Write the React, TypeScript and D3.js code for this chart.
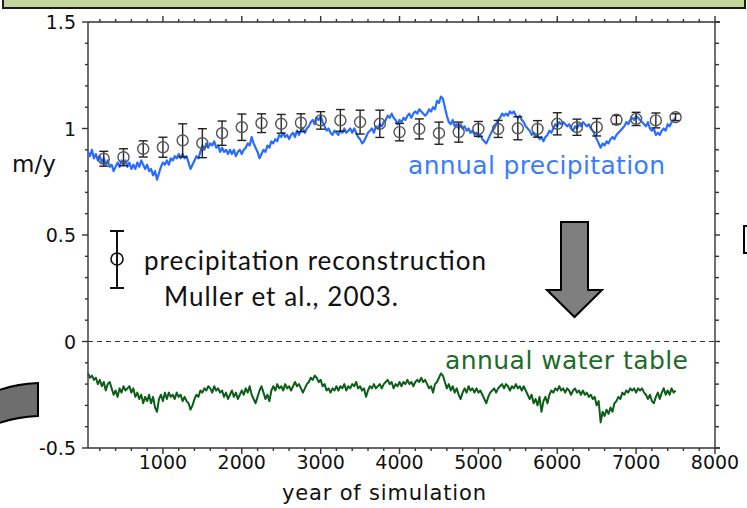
import React from "react";
import * as d3 from "d3";

// Simulated annual precipitation (m/y), sampled every 25 years from year 50
const PRECIP_SIM = [
  0.89, 0.87, 0.9, 0.86, 0.88, 0.85, 0.87, 0.84, 0.86, 0.83, 0.85, 0.82, 0.83, 0.8, 0.82, 0.84, 0.82, 0.85, 0.83, 0.85,
  0.82, 0.84, 0.81, 0.83, 0.81, 0.84, 0.82, 0.85, 0.83, 0.81, 0.83, 0.8, 0.81, 0.78, 0.8, 0.76, 0.79, 0.82, 0.84, 0.83,
  0.85, 0.83, 0.86, 0.85, 0.87, 0.86, 0.88, 0.86, 0.88, 0.86, 0.87, 0.84, 0.81, 0.83, 0.85, 0.87, 0.86, 0.89, 0.92, 0.9,
  0.93, 0.91, 0.93, 0.92, 0.94, 0.91, 0.92, 0.89, 0.91, 0.89, 0.9, 0.88, 0.9, 0.88, 0.9, 0.87, 0.89, 0.9, 0.88, 0.9,
  0.91, 0.93, 0.92, 0.96, 0.93, 0.91, 0.89, 0.86, 0.88, 0.9, 0.89, 0.92, 0.91, 0.94, 0.93, 0.95, 0.94, 0.97, 0.96, 0.98,
  0.96, 0.97, 0.95, 0.97, 0.98, 0.96, 0.99, 0.97, 0.99, 1.0, 0.98, 1.0, 1.01, 1.03, 1.04, 1.02, 1.05, 1.04, 1.06, 1.03,
  1.01, 0.99, 1.0, 0.98, 0.97, 0.99, 0.98, 0.97, 0.99, 0.98, 1.0, 0.98, 0.99, 1.0, 0.98, 1.0, 0.98, 0.96, 0.95, 0.93,
  0.94, 0.96, 0.98, 0.99, 1.0, 0.98, 1.01, 1.0, 1.02, 1.01, 1.03, 1.04, 1.06, 1.05, 1.07, 1.05, 1.04, 1.02, 1.04, 1.03,
  1.05, 1.04, 1.06, 1.07, 1.05, 1.07, 1.08, 1.07, 1.09, 1.08, 1.07, 1.06, 1.07, 1.09, 1.08, 1.1, 1.09, 1.13, 1.12, 1.15,
  1.14, 1.1, 1.06, 1.03, 1.02, 1.04, 1.01, 1.02, 1.0, 1.02, 1.0, 1.01, 0.99, 1.0, 0.98, 0.99, 0.97, 0.98, 0.96, 0.97,
  0.95, 0.94, 0.93, 0.95, 0.97, 0.99, 1.0, 1.02, 1.04, 1.05, 1.07, 1.06, 1.07, 1.06, 1.08, 1.07, 1.08, 1.06, 1.05, 1.06,
  1.04, 1.03, 1.01, 1.0, 0.99, 0.97, 0.98, 0.96, 0.97, 0.95, 0.96, 0.94, 0.96, 0.97, 0.99, 0.98, 1.0, 1.02, 1.01, 1.03,
  1.02, 1.03, 1.02, 1.01, 1.02, 1.0, 0.99, 1.01, 1.0, 1.02, 1.01, 1.03, 1.02, 1.01, 1.02, 1.0, 0.99, 0.97, 0.95, 0.93,
  0.91, 0.93, 0.92, 0.94, 0.93, 0.95, 0.96, 0.95, 0.97, 0.98, 0.99, 1.0, 1.01, 1.03, 1.02, 1.04, 1.05, 1.04, 1.06, 1.05,
  1.04, 1.03, 1.02, 1.01, 1.03, 1.0, 0.99, 1.0, 0.97, 0.98, 0.97, 0.99, 1.0, 0.99, 1.02, 1.01, 1.03, 1.04, 1.05,
];

// Simulated annual water table (m), same sampling
const WATER_TABLE = [
  -0.15, -0.17, -0.16, -0.18, -0.17, -0.2, -0.18, -0.21, -0.19, -0.23, -0.2, -0.19, -0.22, -0.25, -0.23, -0.26, -0.22, -0.24, -0.21, -0.23,
  -0.22, -0.21, -0.24, -0.22, -0.26, -0.24, -0.27, -0.25, -0.29, -0.26, -0.28, -0.25, -0.29, -0.26, -0.31, -0.33, -0.27, -0.25, -0.28, -0.24,
  -0.27, -0.24, -0.26, -0.25, -0.27, -0.24, -0.26, -0.25, -0.28, -0.26, -0.28, -0.29, -0.32, -0.3, -0.27, -0.25, -0.26, -0.23, -0.24, -0.22,
  -0.23, -0.21, -0.22, -0.24, -0.21, -0.23, -0.22, -0.24, -0.23, -0.26, -0.24, -0.27, -0.25, -0.23, -0.26, -0.24, -0.27, -0.25, -0.23, -0.25,
  -0.22, -0.24, -0.21, -0.25, -0.27, -0.29, -0.26, -0.23, -0.21, -0.24, -0.27, -0.25, -0.28, -0.23, -0.21, -0.23, -0.2, -0.22, -0.21, -0.23,
  -0.2, -0.22, -0.21, -0.23, -0.21, -0.19, -0.21, -0.2, -0.22, -0.24, -0.22, -0.2, -0.19, -0.17, -0.18, -0.16, -0.17, -0.19, -0.18, -0.21,
  -0.2, -0.23, -0.22, -0.24, -0.22, -0.23, -0.21, -0.23, -0.21, -0.22, -0.2, -0.23, -0.21, -0.22, -0.2, -0.21, -0.19, -0.22, -0.21, -0.23,
  -0.22, -0.26, -0.23, -0.21, -0.22, -0.2, -0.22, -0.21, -0.2, -0.22, -0.2, -0.19, -0.18, -0.2, -0.19, -0.22, -0.2, -0.21, -0.19, -0.21,
  -0.19, -0.2, -0.18, -0.2, -0.19, -0.21, -0.19, -0.18, -0.19, -0.17, -0.19, -0.18, -0.2, -0.22, -0.21, -0.24, -0.2, -0.19, -0.17, -0.15,
  -0.16, -0.19, -0.22, -0.2, -0.23, -0.21, -0.24, -0.22, -0.25, -0.27, -0.24, -0.22, -0.24, -0.21, -0.23, -0.22, -0.24, -0.22, -0.24, -0.23,
  -0.25, -0.27, -0.29, -0.26, -0.24, -0.23, -0.22, -0.24, -0.22, -0.21, -0.2, -0.22, -0.2, -0.21, -0.23, -0.21, -0.22, -0.2, -0.22, -0.21,
  -0.23, -0.21, -0.23, -0.25, -0.27, -0.25, -0.29, -0.27, -0.3, -0.26, -0.33, -0.28, -0.26, -0.29, -0.25, -0.23, -0.24, -0.22, -0.23, -0.21,
  -0.23, -0.22, -0.24, -0.22, -0.23, -0.25, -0.23, -0.22, -0.24, -0.23, -0.25, -0.23, -0.25, -0.24, -0.26, -0.25, -0.27, -0.26, -0.3, -0.28,
  -0.38, -0.33, -0.35, -0.32, -0.34, -0.31, -0.33, -0.29, -0.28, -0.26, -0.27, -0.24, -0.25, -0.23, -0.24, -0.22, -0.23, -0.22, -0.24, -0.22,
  -0.23, -0.22, -0.24, -0.25, -0.27, -0.25, -0.28, -0.29, -0.26, -0.24, -0.27, -0.24, -0.22, -0.25, -0.23, -0.25, -0.22, -0.24, -0.23,
];

const SIM_START_YEAR = 50;
const SIM_STEP = 25;

// Precipitation reconstruction (Muller et al., 2003)
const RECON_YEARS = [
  250, 500, 750, 1000, 1250, 1500, 1750, 2000, 2250, 2500, 2750, 3000, 3250, 3500, 3750,
  4000, 4250, 4500, 4750, 5000, 5250, 5500, 5750, 6000, 6250, 6500, 6750, 7000, 7250, 7500,
];
const RECON_MEAN = [
  0.858, 0.865, 0.904, 0.912, 0.944, 0.931, 0.978, 1.006, 1.025, 1.022, 1.027, 1.038, 1.038, 1.03, 1.022,
  0.983, 0.998, 0.978, 0.983, 0.998, 0.998, 1.001, 0.998, 1.022, 1.006, 1.006, 1.041, 1.045, 1.038, 1.053,
];
const RECON_ERR = [
  0.035, 0.04, 0.038, 0.047, 0.078, 0.068, 0.057, 0.062, 0.044, 0.044, 0.042, 0.041, 0.051, 0.056, 0.064,
  0.041, 0.047, 0.052, 0.047, 0.035, 0.04, 0.054, 0.039, 0.052, 0.038, 0.041, 0.02, 0.031, 0.035, 0.016,
];

const X_TICKS = [1000, 2000, 3000, 4000, 5000, 6000, 7000, 8000];
const Y_TICKS = [-0.5, 0, 0.5, 1, 1.5];

const W = 747;
const H = 508;
const PLOT = { left: 88, right: 715, top: 22, bottom: 448 };

const TICK_FONT = "'DejaVu Sans', Verdana, sans-serif";
const NOTE_FONT = "Lato, 'Open Sans', sans-serif";

export default function App() {
  const x = d3.scaleLinear().domain([50, 8000]).range([PLOT.left, PLOT.right]);
  const y = d3.scaleLinear().domain([-0.5, 1.5]).range([PLOT.bottom, PLOT.top]);

  const line = d3
    .line<number>()
    .x((_, i) => x(SIM_START_YEAR + i * SIM_STEP))
    .y((v) => y(v));

  const minorX = d3.range(200, 8000, 200).filter((t) => t % 1000 !== 0);
  const minorY = d3
    .range(-5, 16)
    .map((k) => k / 10)
    .filter((v) => Math.abs(v * 2 - Math.round(v * 2)) > 1e-6);

  return (
    <svg
      width={W}
      height={H}
      style={{ position: "absolute", left: 0, top: 0, display: "block", background: "#fff" }}
    >
      {/* title banner edge */}
      <rect x={3} y={-10} width={742} height={18} fill="#c3d69b" stroke="#1a1a1a" strokeWidth={2} />

      {/* neighbouring slide shapes */}
      <path d="M -6,392 Q 14,384 38,383 L 38,416 Q 14,417 -6,425 Z" fill="#6e6e6e" stroke="#000" strokeWidth={2} />
      <rect x={744} y={226} width={20} height={27} fill="#fff" stroke="#000" strokeWidth={2} />

      {/* zero reference */}
      <line
        x1={PLOT.left}
        x2={PLOT.right}
        y1={y(0)}
        y2={y(0)}
        stroke="#333"
        strokeWidth={1}
        strokeDasharray="5,4"
      />

      {/* frame */}
      <g stroke="#333" strokeWidth={1.4} fill="none">
        <line x1={PLOT.left} x2={PLOT.right + 5} y1={PLOT.top} y2={PLOT.top} />
        <line x1={PLOT.left} x2={PLOT.right + 5} y1={PLOT.bottom} y2={PLOT.bottom} />
        <line x1={PLOT.left} x2={PLOT.left} y1={PLOT.top} y2={PLOT.bottom} />
        <line x1={PLOT.right} x2={PLOT.right} y1={PLOT.top} y2={PLOT.bottom} />
        {X_TICKS.map((t) => (
          <g key={"xt" + t}>
            <line x1={x(t)} x2={x(t)} y1={PLOT.bottom} y2={PLOT.bottom + 6} />
            <line x1={x(t)} x2={x(t)} y1={PLOT.top} y2={PLOT.top - 6} />
          </g>
        ))}
        {minorX.map((t) => (
          <g key={"xm" + t}>
            <line x1={x(t)} x2={x(t)} y1={PLOT.bottom} y2={PLOT.bottom + 3} />
            <line x1={x(t)} x2={x(t)} y1={PLOT.top} y2={PLOT.top - 3} />
          </g>
        ))}
        {Y_TICKS.map((v) => (
          <g key={"yt" + v}>
            <line x1={PLOT.left} x2={PLOT.left - 6} y1={y(v)} y2={y(v)} />
            <line x1={PLOT.right} x2={PLOT.right + 5} y1={y(v)} y2={y(v)} />
          </g>
        ))}
        {minorY.map((v) => (
          <g key={"ym" + v}>
            <line x1={PLOT.left} x2={PLOT.left - 3} y1={y(v)} y2={y(v)} />
            <line x1={PLOT.right} x2={PLOT.right + 4} y1={y(v)} y2={y(v)} />
          </g>
        ))}
      </g>

      {/* tick labels */}
      <g fontFamily={TICK_FONT} fontSize={19} fill="#111">
        {X_TICKS.map((t) => (
          <text key={"xl" + t} x={x(t)} y={469} textAnchor="middle">
            {t}
          </text>
        ))}
        {Y_TICKS.map((v) => (
          <text key={"yl" + v} x={76} y={y(v) + 7} textAnchor="end">
            {String(v)}
          </text>
        ))}
      </g>

      <text x={12} y={172} fontFamily={TICK_FONT} fontSize={23} fill="#111">
        m/y
      </text>
      <text x={282} y={500} fontFamily={TICK_FONT} fontSize={21} fill="#111" textLength={204}>
        year of simulation
      </text>

      {/* simulated series */}
      <path d={line(PRECIP_SIM) ?? ""} fill="none" stroke="#2a6cff" strokeWidth={2.2} strokeLinejoin="round" />
      <path d={line(WATER_TABLE) ?? ""} fill="none" stroke="#0d5e18" strokeWidth={2} strokeLinejoin="round" />

      {/* reconstruction with error bars */}
      <g>
        {RECON_YEARS.map((t, i) => {
          const cx = x(t);
          const lo = y(RECON_MEAN[i] - RECON_ERR[i]);
          const hi = y(RECON_MEAN[i] + RECON_ERR[i]);
          return (
            <g key={"r" + t} stroke="#222" strokeWidth={1.4} fill="none">
              <line x1={cx} x2={cx} y1={lo} y2={hi} />
              <line x1={cx - 4.5} x2={cx + 4.5} y1={lo} y2={lo} />
              <line x1={cx - 4.5} x2={cx + 4.5} y1={hi} y2={hi} />
              <circle cx={cx} cy={y(RECON_MEAN[i])} r={5.5} stroke="#555" />
            </g>
          );
        })}
      </g>

      {/* series labels */}
      <text x={408} y={174} fontFamily={TICK_FONT} fontSize={25} fill="#3a7cff" textLength={257}>
        annual precipitation
      </text>
      <text x={445} y={369} fontFamily={TICK_FONT} fontSize={25} fill="#1e6a2a" textLength={243}>
        annual water table
      </text>

      {/* legend */}
      <g stroke="#111" strokeWidth={2} fill="none">
        <line x1={117} x2={117} y1={231} y2={288} />
        <line x1={110} x2={124} y1={231} y2={231} />
        <line x1={110} x2={124} y1={288} y2={288} />
        <circle cx={117} cy={259} r={6} strokeWidth={1.6} />
      </g>
      <text x={144} y={270} fontFamily={NOTE_FONT} fontSize={26} fill="#111" textLength={342}>
        precipitation reconstruction
      </text>
      <text x={164} y={306} fontFamily={NOTE_FONT} fontSize={26} fill="#111" textLength={234}>
        Muller et al., 2003.
      </text>

      {/* downward arrow */}
      <path
        d="M 561,222 L 588,222 L 588,290 L 602,290 L 574.5,317 L 547,290 L 561,290 Z"
        fill="#7f7f7f"
        stroke="#000"
        strokeWidth={2}
      />
    </svg>
  );
}
